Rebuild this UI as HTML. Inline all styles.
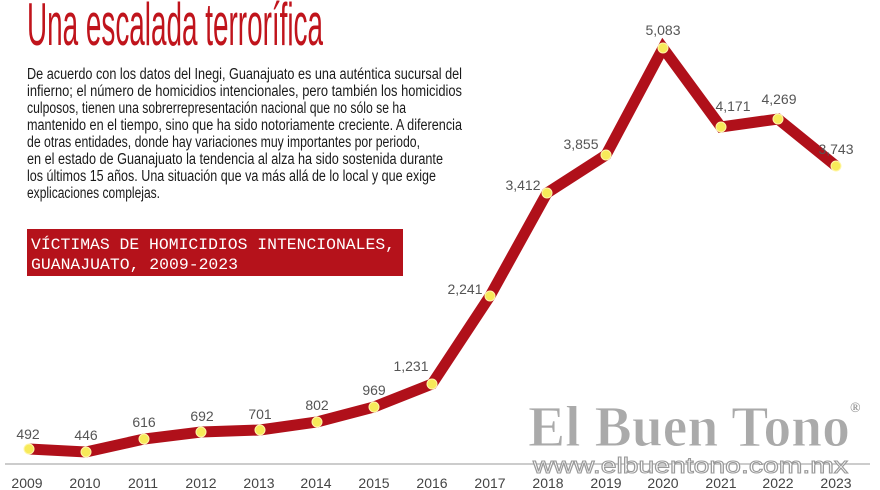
<!DOCTYPE html>
<html><head><meta charset="utf-8"><style>
html,body{margin:0;padding:0;background:#fff;}
svg{display:block;}
</style></head><body>
<svg width="880" height="490" viewBox="0 0 880 490" xmlns="http://www.w3.org/2000/svg">
<rect width="880" height="490" fill="#fff"/>
<text x="27" y="45" font-family="Liberation Sans Narrow, Liberation Sans, sans-serif" font-size="60" fill="#c0141c" textLength="296" lengthAdjust="spacingAndGlyphs">Una escalada terrorífica</text>
<g font-family="Liberation Sans Narrow, Liberation Sans, sans-serif" font-size="15.5" fill="#1a1a1a">
<text x="27" y="79" textLength="435" lengthAdjust="spacingAndGlyphs">De acuerdo con los datos del Inegi, Guanajuato es una auténtica sucursal del</text>
<text x="27" y="96" textLength="435" lengthAdjust="spacingAndGlyphs">infierno; el número de homicidios intencionales, pero también los homicidios</text>
<text x="27" y="113" textLength="379" lengthAdjust="spacingAndGlyphs">culposos, tienen una sobrerrepresentación nacional que no sólo se ha</text>
<text x="27" y="130" textLength="435" lengthAdjust="spacingAndGlyphs">mantenido en el tiempo, sino que ha sido notoriamente creciente. A diferencia</text>
<text x="27" y="147" textLength="393" lengthAdjust="spacingAndGlyphs">de otras entidades, donde hay variaciones muy importantes por periodo,</text>
<text x="27" y="164" textLength="416" lengthAdjust="spacingAndGlyphs">en el estado de Guanajuato la tendencia al alza ha sido sostenida durante</text>
<text x="27" y="181" textLength="409" lengthAdjust="spacingAndGlyphs">los últimos 15 años. Una situación que va más allá de lo local y que exige</text>
<text x="27" y="198" textLength="133" lengthAdjust="spacingAndGlyphs">explicaciones complejas.</text>
</g>
<rect x="27" y="229" width="376" height="47" fill="#b5121b"/>
<g font-family="Liberation Mono, monospace" font-size="16" fill="#fff">
<text x="31" y="249" textLength="364" lengthAdjust="spacingAndGlyphs">VÍCTIMAS DE HOMICIDIOS INTENCIONALES,</text>
<text x="31" y="269" textLength="207" lengthAdjust="spacingAndGlyphs">GUANAJUATO, 2009-2023</text>
</g>
<line x1="5" y1="464" x2="870" y2="464" stroke="#bbb" stroke-width="1.5"/>
<g font-family="Liberation Sans Narrow, Liberation Sans, sans-serif" font-size="14" fill="#444" text-anchor="middle">
<text x="27" y="488">2009</text><text x="85" y="488">2010</text><text x="143" y="488">2011</text>
<text x="201" y="488">2012</text><text x="259" y="488">2013</text><text x="316" y="488">2014</text>
<text x="374" y="488">2015</text><text x="432" y="488">2016</text><text x="490" y="488">2017</text>
<text x="548" y="488">2018</text><text x="606" y="488">2019</text><text x="663" y="488">2020</text>
<text x="721" y="488">2021</text><text x="778" y="488">2022</text><text x="836" y="488">2023</text>
</g>
<polyline points="29,449 86,452 144,439 201,432 260,430 317,422 374,407 432,384 490,296 547,193 606,155 663,48 721,127 778,119 836,166" fill="none" stroke="#b0101a" stroke-width="11" stroke-linejoin="miter"/>
<g fill="#f7ea5a" stroke="#fff6a8" stroke-width="1">
<circle cx="29" cy="449" r="5"/><circle cx="86" cy="452" r="5"/><circle cx="144" cy="439" r="5"/>
<circle cx="201" cy="432" r="5"/><circle cx="260" cy="430" r="5"/><circle cx="317" cy="422" r="5"/>
<circle cx="374" cy="407" r="5"/><circle cx="432" cy="384" r="5"/><circle cx="490" cy="296" r="5"/>
<circle cx="547" cy="193" r="5"/><circle cx="606" cy="155" r="5"/><circle cx="663" cy="48" r="5"/>
<circle cx="721" cy="127" r="5"/><circle cx="778" cy="119" r="5"/><circle cx="836" cy="166" r="5"/>
</g>
<g font-family="Liberation Sans Narrow, Liberation Sans, sans-serif" font-size="14" fill="#555" text-anchor="middle">
<text x="28" y="439">492</text><text x="86" y="440">446</text><text x="144" y="427">616</text>
<text x="202" y="421">692</text><text x="260" y="419">701</text><text x="317" y="410">802</text>
<text x="374" y="395">969</text><text x="411" y="371">1,231</text><text x="465" y="294">2,241</text>
<text x="523" y="190">3,412</text><text x="581" y="149">3,855</text><text x="663" y="35">5,083</text>
<text x="733" y="111">4,171</text><text x="779" y="104">4,269</text><text x="836" y="154">3,743</text>
</g>
<g font-family="Liberation Serif, serif" font-weight="bold" fill="#aaa" stroke="#fff" stroke-width="1">
<text x="528" y="446" font-size="58" textLength="322" lengthAdjust="spacingAndGlyphs">El Buen Tono</text>
<text x="850" y="412" font-size="14" stroke="none" fill="#999">®</text>
</g>
<text x="533" y="473" font-family="Liberation Sans, sans-serif" font-size="22" fill="#fff" stroke="#999" stroke-width="1" textLength="315" lengthAdjust="spacingAndGlyphs">www.elbuentono.com.mx</text>
</svg>
</body></html>
